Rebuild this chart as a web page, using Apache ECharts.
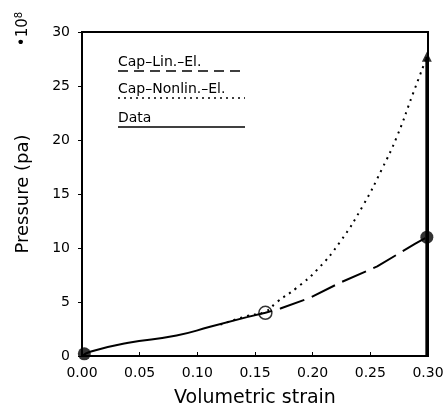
<!DOCTYPE html>
<html><head><meta charset="utf-8">
<script src="https://cdn.jsdelivr.net/npm/echarts@6/dist/echarts.min.js"></script>
<style>html,body{margin:0;padding:0;background:#fff}#c{width:446px;height:406px}</style>
</head><body><div id="c"></div>
<script>
const xTicks = [0, 0.05, 0.10, 0.15, 0.20, 0.25, 0.30];
const yTicks = [0, 5, 10, 15, 20, 25, 30];
const dataLow = [[0,0],[0.007,0.4],[0.039,1.2],[0.082,1.9],[0.111,2.7],[0.143,3.6]];
const dataVertical = [[0.299,0],[0.299,27.7]];
const capLin = [[0.143,3.6],[0.159,4.0],[0.172,4.4],[0.198,5.4],[0.224,6.8],[0.256,8.3],[0.289,10.4],[0.299,11]];
const capNonlin = [[0.12,2.9],[0.143,3.7],[0.159,4.1],[0.169,5.0],[0.186,6.3],[0.204,8.0],[0.224,10.6],[0.244,14.0],[0.26,17.3],[0.273,20.3],[0.287,24.3],[0.299,27.7]];
const filledPts = [[0.002,0.2],[0.299,11]];
const openPts = [[0.159,4.0]];
const triPts = [[0.299,27.7]];
const legendNames = ['Cap\u2013Lin.\u2013El.', 'Cap\u2013Nonlin.\u2013El.', 'Data'];

const font = 'DejaVu Sans';
const chart = echarts.init(document.getElementById('c'));
const legendY = [71, 98, 127];
const legendTypes = [[10,6], [2,4], 'solid'];
const graphics = [];
legendNames.forEach((n,i)=>{
  graphics.push({type:'text', left:118, top:legendY[i]-16, style:{text:n, font:'14px '+font, fill:'#000'}});
  graphics.push({type:'line', shape:{x1:118,y1:legendY[i],x2:245,y2:legendY[i]}, style:{stroke:'#000', lineWidth:1.5, lineDash: legendTypes[i]==='solid'?null:legendTypes[i]}});
});
graphics.push({type:'text', x:23, y:29, rotation:Math.PI/2, style:{rich:{a:{font:'15px '+font,fill:'#000'},s:{font:'10px '+font,fill:'#000',verticalAlign:'top',padding:[0,0,8,0]}}, text:'{a|\u202210}{s|8}', align:'center', verticalAlign:'middle'}});

chart.setOption({
  animation:false,
  grid:{left:82, right:18, top:32, bottom:50, show:true, borderColor:'#000', borderWidth:2, containLabel:false, outerBoundsMode:'none'},
  graphic: graphics,
  xAxis:{type:'value', min:0, max:0.3, interval:0.05,
    name:'Volumetric strain', nameLocation:'middle', nameGap:33,
    nameTextStyle:{fontFamily:font, fontSize:19, color:'#000'},
    axisLine:{lineStyle:{color:'#000', width:2}},
    axisTick:{inside:true, length:4, lineStyle:{color:'#000'}},
    axisLabel:{fontFamily:font, fontSize:14, color:'#000', margin:10, formatter:v=>v.toFixed(2)},
    splitLine:{show:false}},
  yAxis:{type:'value', min:0, max:30, interval:5,
    name:'Pressure (pa)', nameLocation:'middle', nameGap:50,
    nameTextStyle:{fontFamily:font, fontSize:18, color:'#000'},
    axisLine:{lineStyle:{color:'#000', width:2}},
    axisTick:{length:4, lineStyle:{color:'#000'}},
    axisLabel:{fontFamily:font, fontSize:14, color:'#000', margin:12},
    splitLine:{show:false}},
  series:[
    {type:'line', data:dataLow, showSymbol:false, smooth:true, lineStyle:{color:'#000', width:2}},
    {type:'line', data:dataVertical, showSymbol:false, lineStyle:{color:'#000', width:3}},
    {type:'line', data:capLin, showSymbol:false, lineStyle:{color:'#000', width:2, type:[26,8]}},
    {type:'line', data:capNonlin, showSymbol:false, smooth:true, lineStyle:{color:'#000', width:2, type:[2,5]}},
    {type:'scatter', data:filledPts, symbol:'circle', symbolSize:13, itemStyle:{color:'#000'}},
    {type:'scatter', data:openPts, symbol:'circle', symbolSize:13, itemStyle:{color:'#fff', borderColor:'#000', borderWidth:1.5}},
    {type:'scatter', data:triPts, symbol:'triangle', symbolSize:10, itemStyle:{color:'#000'}}
  ]
});
</script></body></html>
